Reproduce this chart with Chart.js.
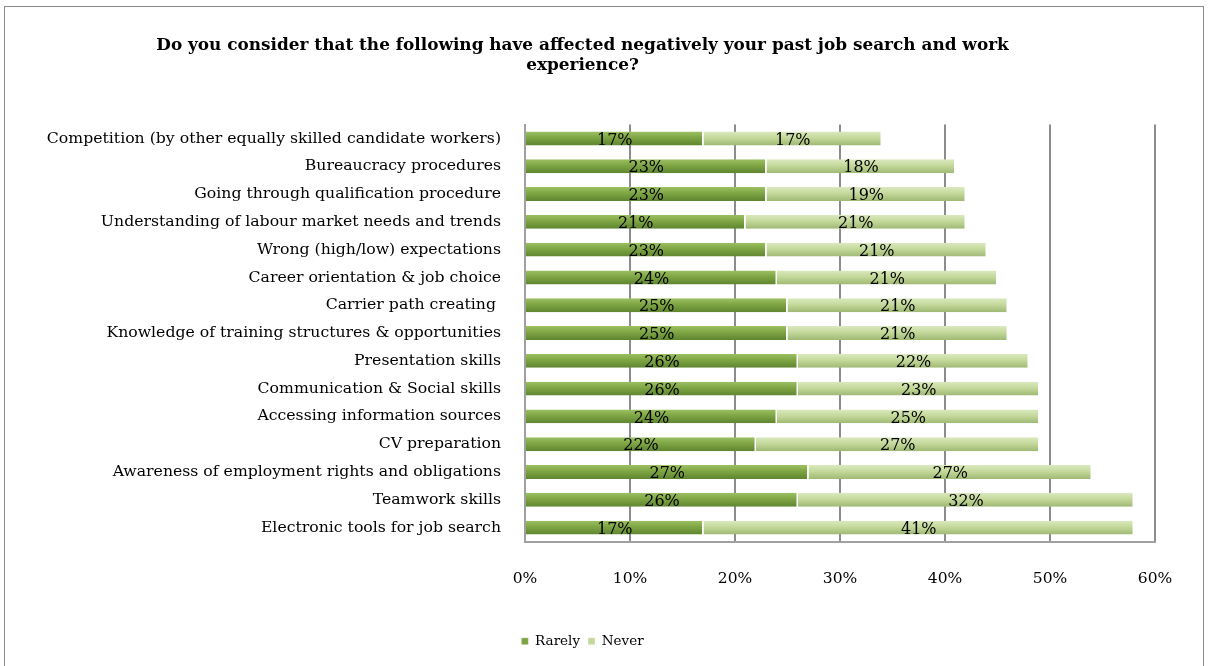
<!DOCTYPE html>
<html>
<head>
<meta charset="utf-8">
<script src="https://cdn.jsdelivr.net/npm/chart.js@4.4.1/dist/chart.umd.min.js"></script>
<style>
  html, body { margin: 0; padding: 0; background: #fff; }
  .frame {
    position: absolute; left: 4px; top: 6px; width: 1200px; height: 670px;
    border: 1px solid #8a8a8a; box-sizing: border-box;
  }
  .wrap { position: absolute; left: 0; top: 0; width: 1211px; height: 666px; }
</style>
</head>
<body>
<div class="frame"></div>
<div class="wrap"><canvas id="myChart" width="1211" height="666"></canvas></div>
<script>
const categories = [
    "Competition (by other equally skilled candidate workers)",
    "Bureaucracy procedures",
    "Going through qualification procedure",
    "Understanding of labour market needs and trends",
    "Wrong (high/low) expectations",
    "Career orientation & job choice",
    "Carrier path creating ",
    "Knowledge of training structures & opportunities",
    "Presentation skills",
    "Communication & Social skills",
    "Accessing information sources",
    "CV preparation",
    "Awareness of employment rights and obligations",
    "Teamwork skills",
    "Electronic tools for job search"
];
const rarely = [17, 23, 23, 21, 23, 24, 25, 25, 26, 26, 24, 22, 27, 26, 17];
const never  = [17, 18, 19, 21, 21, 21, 21, 21, 22, 23, 25, 27, 27, 32, 41];
const xTicks = [0, 10, 20, 30, 40, 50, 60];

const serif = "'DejaVu Serif', 'Liberation Serif', serif";

// shaded bar fill, light on top and darker towards the bottom edge
const barShade = {
    id: 'barShade',
    beforeDatasetsDraw(chart) {
        const ctx = chart.ctx;
        const tones = [
            ['#9cc062', '#7ea544', '#5f8530'],
            ['#dbe9bf', '#c4d99b', '#9fb874']
        ];
        chart.data.datasets.forEach((ds, i) => {
            const meta = chart.getDatasetMeta(i);
            meta.data.forEach(el => {
                const top = el.y - el.height / 2;
                const g = ctx.createLinearGradient(0, top, 0, top + el.height);
                g.addColorStop(0, tones[i][0]);
                g.addColorStop(0.45, tones[i][1]);
                g.addColorStop(1, tones[i][2]);
                el.options = Object.assign({}, el.options, { backgroundColor: g });
            });
        });
    }
};

// percentage written in the middle of each segment
const segmentLabels = {
    id: 'segmentLabels',
    afterDatasetsDraw(chart) {
        const ctx = chart.ctx;
        ctx.save();
        ctx.font = '16px ' + serif;
        ctx.fillStyle = '#000';
        ctx.textAlign = 'center';
        ctx.textBaseline = 'middle';
        chart.data.datasets.forEach((ds, i) => {
            const meta = chart.getDatasetMeta(i);
            meta.data.forEach((el, j) => {
                const mid = (el.x + el.base) / 2;
                ctx.fillText(ds.data[j] + '%', mid, el.y + 2);
            });
        });
        ctx.restore();
    }
};

const canvas = document.getElementById('myChart');

new Chart(canvas, {
    type: 'bar',
    data: {
        labels: categories,
        datasets: [
            { label: 'Rarely', data: rarely, backgroundColor: '#7ea544' },
            { label: 'Never', data: never, backgroundColor: '#c4d99b' }
        ]
    },
    options: {
        indexAxis: 'y',
        responsive: false,
        animation: false,
        barPercentage: 0.5,
        categoryPercentage: 1,
        borderColor: '#ffffff',
        borderWidth: { left: 0, right: 1.5, top: 0, bottom: 0 },
        borderSkipped: false,
        layout: { padding: { left: 10, right: 56, top: 14, bottom: 8 } },
        scales: {
            x: {
                stacked: true,
                min: 0,
                max: 60,
                afterBuildTicks(scale) {
                    scale.ticks = xTicks.map(v => ({ value: v }));
                },
                afterFit(scale) { scale.height = 85; },
                ticks: {
                    color: '#000',
                    padding: 28,
                    font: { family: serif, size: 15.5 },
                    callback: v => v + '%'
                },
                grid: { color: '#8c8c8c', lineWidth: 2, drawTicks: false },
                border: { display: true, color: '#a0a0a0', width: 2 }
            },
            y: {
                stacked: true,
                afterFit(scale) { scale.width = 515; },
                ticks: {
                    color: '#000',
                    padding: 24,
                    font: { family: serif, size: 15.7 }
                },
                grid: { display: false, drawTicks: false },
                border: { display: true, color: '#a0a0a0', width: 2 }
            }
        },
        plugins: {
            title: {
                display: true,
                text: [
                    'Do you consider that the following have affected negatively your past job search and work',
                    'experience?'
                ],
                color: '#000',
                font: { family: serif, size: 16.9, weight: 'bold' },
                lineHeight: 1.45,
                padding: { top: 21, bottom: 49 }
            },
            legend: {
                position: 'bottom',
                labels: {
                    color: '#000',
                    boxWidth: 7,
                    boxHeight: 7,
                    padding: 8,
                    font: { family: serif, size: 13.5 }
                }
            },
            tooltip: { enabled: false }
        }
    },
    plugins: [barShade, segmentLabels]
});
</script>
</body>
</html>
